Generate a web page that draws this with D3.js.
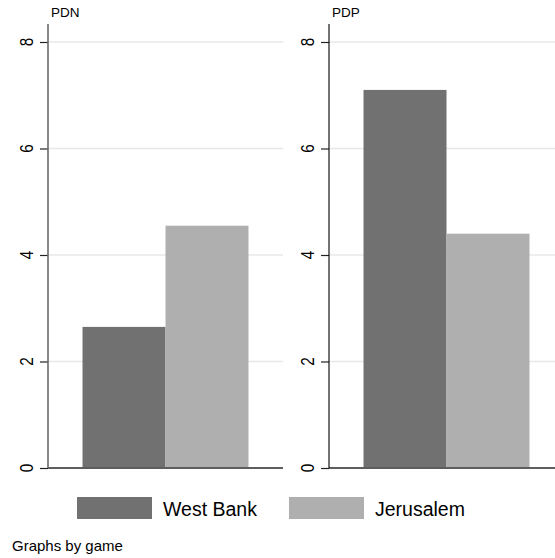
<!DOCTYPE html>
<html>
<head>
<meta charset="utf-8">
<script src="https://cdn.jsdelivr.net/npm/d3@7"></script>
<style>
  body { margin: 0; background: #fff; }
  svg { display: block; font-family: "Liberation Sans", Arial, Helvetica, sans-serif; }
</style>
</head>
<body>
<div id="chart"></div>
<script>
// values
const games = ["PDN", "PDP"];
const groups = ["West Bank", "Jerusalem"];
const westBank = [2.65, 7.10];
const jerusalem = [4.55, 4.40];
const yTicks = [0, 2, 4, 6, 8];

const colors = { "West Bank": "#717171", "Jerusalem": "#afafaf" };

const W = 555, H = 558;
const panelLeft = [48, 329];
const panelWidth = 235;
const plotTop = 24, plotBottom = 468;

const svg = d3.select("#chart").append("svg")
    .attr("width", W)
    .attr("height", H);

const y = d3.scaleLinear().domain([0, 8]).range([plotBottom, 42]);

const x = d3.scaleBand()
    .domain(groups)
    .range([0, panelWidth])
    .paddingInner(0)
    .paddingOuter(0.416);

const yAxis = d3.axisLeft(y)
    .tickValues(yTicks)
    .tickSize(8)
    .tickFormat("");

games.forEach(function (game, i) {
    var g = svg.append("g")
        .attr("transform", `translate(${panelLeft[i]},0)`);

    // grid
    g.selectAll(".grid")
        .data(yTicks.filter(d => d > 0))
        .join("line")
        .attr("class", "grid")
        .attr("x1", 0).attr("x2", panelWidth)
        .attr("y1", d => y(d)).attr("y2", d => y(d))
        .attr("stroke", "#e8e8e8")
        .attr("stroke-width", 1.5);

    var vals = { "West Bank": westBank[i], "Jerusalem": jerusalem[i] };

    g.selectAll(".bar")
        .data(groups)
        .join("rect")
        .attr("class", "bar")
        .attr("x", d => x(d))
        .attr("width", x.bandwidth())
        .attr("y", d => y(vals[d]))
        .attr("height", d => y(0) - y(vals[d]))
        .attr("fill", d => colors[d]);

    // x baseline
    g.append("line")
        .attr("x1", 0).attr("x2", panelWidth)
        .attr("y1", y(0)).attr("y2", y(0))
        .attr("stroke", "#5e5e5e")
        .attr("stroke-width", 2);

    var ax = g.append("g").call(yAxis);
    ax.select(".domain").remove();
    ax.selectAll(".tick line").attr("stroke", "#222").attr("stroke-width", 1.2);
    ax.selectAll(".tick text").remove();

    // rotated tick labels, Stata style
    g.selectAll(".ylab")
        .data(yTicks)
        .join("text")
        .attr("class", "ylab")
        .attr("transform", d => `translate(-15.5,${y(d)}) rotate(-90) scale(0.85,1)`)
        .attr("text-anchor", "middle")
        .attr("font-size", 18)
        .attr("fill", "#000")
        .text(d => d);

    g.append("line")
        .attr("x1", 0).attr("x2", 0)
        .attr("y1", plotTop).attr("y2", y(0))
        .attr("stroke", i == 0 ? "#6a6a6a" : "#000")
        .attr("stroke-width", i == 0 ? 1.6 : 1.1);

    g.append("text")
        .attr("x", 3)
        .attr("y", 17)
        .attr("font-size", 13.5)
        .text(game);
});

// legend
const legendX = [77, 289];
const legend = svg.append("g");
groups.forEach(function (grp, i) {
    legend.append("rect")
        .attr("x", legendX[i]).attr("y", 497)
        .attr("width", 75).attr("height", 22)
        .attr("fill", colors[grp]);
    legend.append("text")
        .attr("x", legendX[i] + 86)
        .attr("y", 515.5)
        .attr("font-size", 19.5)
        .text(grp);
});

svg.append("text")
    .attr("x", 12)
    .attr("y", 551)
    .attr("font-size", 15)
    .text("Graphs by game");
</script>
</body>
</html>
